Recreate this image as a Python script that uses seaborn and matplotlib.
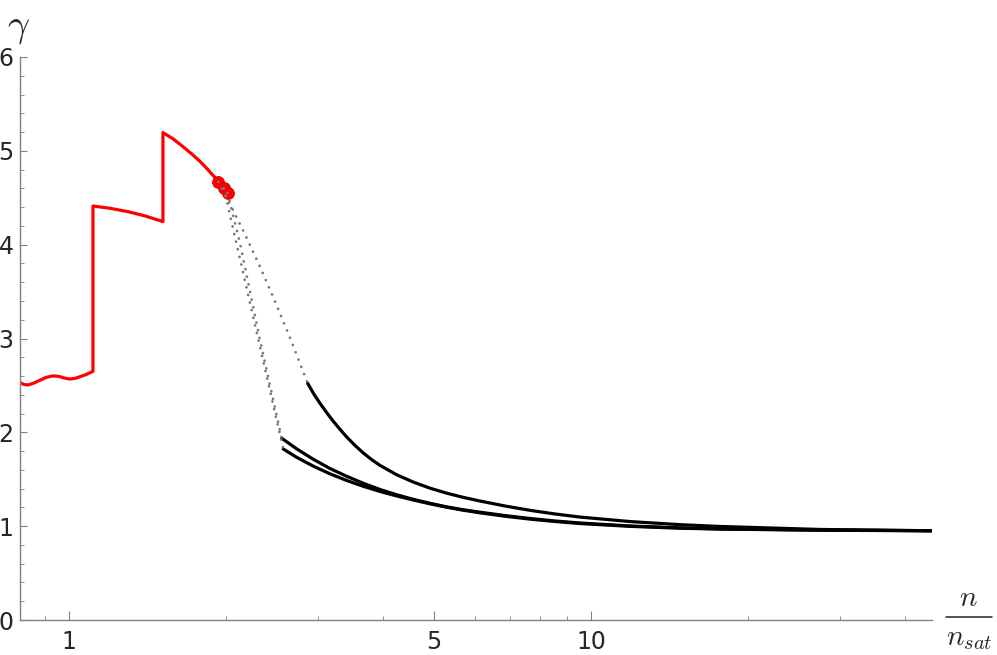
import matplotlib
matplotlib.use('Agg')
import matplotlib.pyplot as plt
import seaborn as sns
from matplotlib.lines import Line2D
from matplotlib.ticker import FixedLocator, NullFormatter

# red curve (n/n_sat, gamma), jumps kept as repeated x values
red_n = [0.806, 0.820, 0.835, 0.857, 0.880, 0.904, 0.928, 0.944, 0.961, 0.978, 1.004, 1.027,
         1.050, 1.078, 1.112, 1.112, 1.198, 1.297, 1.398, 1.514, 1.514, 1.582, 1.653, 1.720,
         1.783, 1.846, 1.921, 1.932, 1.981, 2.014]
red_g = [2.53, 2.51, 2.505, 2.525, 2.555, 2.585, 2.60, 2.60, 2.593, 2.58, 2.568, 2.575,
         2.593, 2.615, 2.65, 4.412, 4.388, 4.352, 4.307, 4.246, 5.195, 5.129, 5.046, 4.966,
         4.887, 4.800, 4.692, 4.67, 4.60, 4.55]

# red dots at the end of the red branch
dot_n = [1.932, 1.981, 2.014]
dot_g = [4.67, 4.60, 4.55]

# black branches
a_n = [2.866, 2.945, 3.026, 3.117, 3.209, 3.306, 3.404, 3.531, 3.663, 3.802, 3.943, 4.244,
       4.567, 4.916, 5.291, 5.692, 6.130, 6.843, 7.641, 8.531, 9.527, 11.88, 14.81, 17.66,
       27.46, 44.95]
a_g = [2.523, 2.409, 2.310, 2.210, 2.118, 2.032, 1.951, 1.861, 1.780, 1.709, 1.648, 1.548,
       1.470, 1.405, 1.352, 1.307, 1.268, 1.215, 1.169, 1.130, 1.097, 1.049, 1.016, 0.997,
       0.965, 0.951]
b_n = [2.556, 2.734, 2.938, 3.162, 3.404, 3.663, 3.943, 4.244, 4.567, 4.916, 5.291, 5.692,
       6.130, 6.843, 7.641, 8.531, 9.527, 11.88, 14.81, 17.66, 27.46, 44.95]
b_g = [1.937, 1.822, 1.713, 1.615, 1.532, 1.457, 1.391, 1.335, 1.286, 1.244, 1.206, 1.175,
       1.149, 1.113, 1.082, 1.055, 1.034, 1.002, 0.982, 0.971, 0.958, 0.952]
c_n = [2.574, 2.734, 2.938, 3.162, 3.404, 3.663, 3.943, 4.244, 4.567, 4.916, 5.291, 5.692,
       6.130, 6.843, 7.641, 8.531, 9.527, 11.88, 14.81, 17.66, 27.46, 44.95]
c_g = [1.822, 1.732, 1.640, 1.558, 1.487, 1.425, 1.370, 1.322, 1.279, 1.238, 1.202, 1.170,
       1.142, 1.106, 1.075, 1.050, 1.028, 0.998, 0.978, 0.969, 0.957, 0.951]

# gray dotted connections from the red dots to the black branches
da_n = [1.932, 2.034, 2.174, 2.323, 2.481, 2.651, 2.866]
da_g = [4.67, 4.434, 4.111, 3.765, 3.398, 3.010, 2.523]
db_n = [2.014, 2.064, 2.127, 2.323, 2.556]
db_g = [4.55, 4.306, 4.015, 2.984, 1.937]
dc_n = [1.981, 2.261, 2.574]
dc_g = [4.60, 3.197, 1.822]

x_major = [1, 5, 10]
x_minor = [0.9, 2, 3, 4, 6, 7, 8, 9, 20, 30, 40]
y_major = [0, 1, 2, 3, 4, 5, 6]
y_minor = [i / 5 for i in range(31) if i % 5]

sns.set_style('white')
plt.rcParams['font.family'] = ['DejaVu Sans']
plt.rcParams['mathtext.fontset'] = 'cm'

fig = plt.figure(figsize=(9.97, 6.55), dpi=100)
ax = fig.add_axes([20 / 997, 35 / 655, 912 / 997, 563 / 655])
ax.set_xscale('log')

sns.lineplot(x=red_n, y=red_g, color='red', lw=2.3, sort=False, estimator=None, ax=ax, zorder=2)
for xs, ys in [(a_n, a_g), (b_n, b_g), (c_n, c_g)]:
    sns.lineplot(x=xs, y=ys, color='black', lw=2.3, sort=False, estimator=None, ax=ax, zorder=2)
sns.scatterplot(x=dot_n, y=dot_g, color='red', s=70, edgecolor='#e00000', linewidth=0.8,
                ax=ax, zorder=3)
for xs, ys in [(da_n, da_g), (db_n, db_g), (dc_n, dc_g)]:
    sns.lineplot(x=xs, y=ys, color='#777777', lw=2.0, linestyle=(0, (0.01, 2.8)),
                 dash_capstyle='round', sort=False, estimator=None, ax=ax, zorder=4)

ax.set_xlim(0.806, 45)
ax.set_ylim(0, 6)

for s in ['top', 'right']:
    ax.spines[s].set_visible(False)
for s in ['left', 'bottom']:
    ax.spines[s].set_color('#808080')
    ax.spines[s].set_linewidth(1.0)

ax.xaxis.set_major_locator(FixedLocator(x_major))
ax.set_xticklabels([str(v) for v in x_major])
ax.xaxis.set_minor_locator(FixedLocator(x_minor))
ax.xaxis.set_minor_formatter(NullFormatter())
ax.yaxis.set_major_locator(FixedLocator(y_major))
ax.set_yticklabels([str(v) for v in y_major])
ax.yaxis.set_minor_locator(FixedLocator(y_minor))

ax.tick_params(which='both', direction='in', color='#808080', bottom=True, left=True)
ax.tick_params(axis='x', which='major', length=6.5, width=0.8, pad=7, labelsize=17)
ax.tick_params(axis='y', which='major', length=5, width=0.8, pad=4.5, labelsize=17)
ax.tick_params(which='minor', length=3, width=0.6)
ax.set_xlabel('')
ax.set_ylabel('')

fig.text(18.5 / 997, 1 - 27.5 / 655, r'$\gamma$', fontsize=28, ha='center', va='center')
# x-axis label written as a stacked fraction n / n_sat
fig.text(968.5 / 997, 1 - 598.5 / 655, r'$n$', fontsize=21, ha='center', va='center')
fig.add_artist(Line2D([946 / 997, 992 / 997], [1 - 617 / 655, 1 - 617 / 655],
                      color='#222222', lw=1.1))
fig.text(969 / 997, 1 - 638 / 655, r'$n_{sat}$', fontsize=21, ha='center', va='center')

fig.savefig('out.png', dpi=100)
